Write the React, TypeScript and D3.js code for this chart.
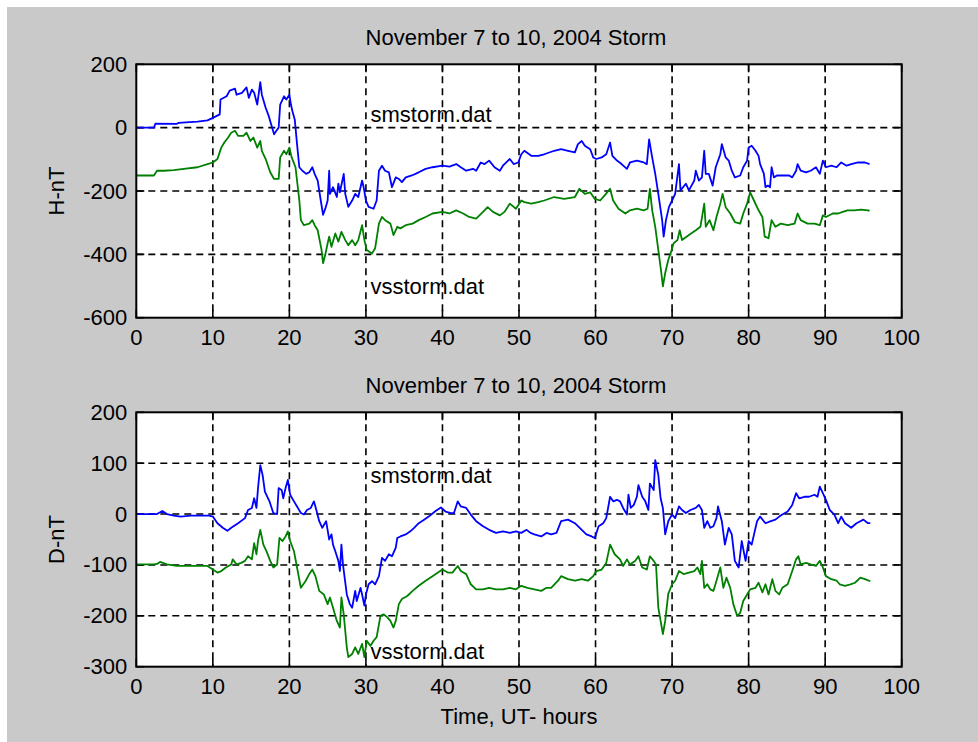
import React from "react";
import * as d3 from "d3";

// ---------- data (hours, nT) ----------
const xTicks = [0, 10, 20, 30, 40, 50, 60, 70, 80, 90, 100];
const hTicks = [-600, -400, -200, 0, 200];
const dTicks = [-300, -200, -100, 0, 100, 200];
const titleText = "November 7 to 10, 2004 Storm";
const seriesNames = ["smstorm.dat", "vsstorm.dat"];

const hSm: [number, number][] = [
  [0, 0], [2.3, 0], [2.5, 13], [5.3, 12], [5.5, 15], [8, 19], [9.3, 23], [10, 31], [10.9, 42], [11.0, 89],
  [11.8, 99], [12.2, 117], [12.9, 123], [13.1, 104], [13.8, 110], [14.4, 127], [14.7, 94], [15.1, 120], [15.4, 110], [15.8, 73],
  [16.2, 144], [16.4, 104], [16.9, 63], [17.3, 37], [18.0, -21], [18.3, -10], [18.6, 0], [18.8, 73], [19.3, 99], [19.6, 89],
  [20.0, 104], [20.2, 73], [20.4, 52], [20.7, 26], [21.0, -52], [21.3, -125], [21.7, -136], [22.2, -146], [22.6, -141], [23.0, -125],
  [23.3, -146], [23.7, -167], [24.1, -230], [24.4, -275], [24.7, -255], [25.0, -230], [25.2, -136], [25.3, -209], [25.7, -188], [26.2, -219],
  [26.4, -177], [26.6, -204], [27.1, -146], [27.3, -209], [27.7, -250], [28.2, -230], [28.6, -209], [29.0, -219], [29.5, -167], [29.7, -188],
  [30.0, -230], [30.35, -250], [31.0, -256], [31.4, -230], [31.7, -136], [32.1, -120], [32.5, -136], [33.0, -141], [33.4, -188], [33.9, -157],
  [34.3, -162], [34.7, -172], [35.2, -157], [36.0, -151], [36.9, -141], [37.8, -130], [38.7, -125], [40.0, -120], [40.9, -123], [41.8, -115],
  [42.4, -125], [43.1, -136], [44.0, -130], [44.4, -136], [45.0, -110], [45.5, -115], [46.1, -104], [46.8, -125], [47.5, -136], [47.9, -120],
  [48.8, -99], [49.3, -115], [49.9, -110], [50.3, -84], [50.7, -73], [51.6, -89], [52.5, -89], [53.3, -84], [54.6, -73], [55.5, -68],
  [56.4, -73], [57.3, -78], [57.7, -52], [58.2, -42], [58.6, -57], [59.3, -68], [59.7, -94], [60.1, -99], [60.8, -94], [61.4, -84],
  [61.9, -47], [62.2, -89], [62.8, -104], [63.4, -115], [64.1, -130], [64.5, -110], [65.4, -104], [66.3, -110], [66.7, -115], [67.0, -37],
  [67.4, -94], [67.8, -146], [68.2, -209], [68.7, -292], [68.9, -344], [69.2, -292], [69.6, -250], [70.0, -230], [70.4, -209], [70.9, -115],
  [71.1, -198], [71.8, -177], [72.2, -198], [72.9, -167], [73.1, -136], [73.5, -167], [73.9, -157], [74.2, -73], [74.4, -146], [74.8, -146],
  [75.3, -183], [75.7, -125], [76.3, -84], [76.5, -52], [77.0, -94], [77.4, -104], [77.8, -136], [78.2, -157], [78.9, -151], [79.3, -125],
  [79.8, -104], [80.0, -63], [80.4, -57], [80.9, -73], [81.3, -89], [81.5, -115], [82.0, -146], [82.2, -188], [82.5, -183], [82.8, -188],
  [83.0, -125], [83.3, -157], [83.7, -151], [84.4, -151], [85.3, -151], [85.7, -157], [86.2, -136], [86.4, -115], [86.8, -136], [87.5, -141],
  [88.1, -136], [88.8, -125], [89.3, -146], [89.7, -104], [90.1, -125], [90.8, -120], [91.5, -125], [92.1, -110], [92.8, -120], [93.4, -115],
  [94.3, -110], [95.2, -110], [95.8, -115],
];

const hVs: [number, number][] = [
  [0, -151], [2.3, -151], [2.7, -136], [3.6, -136], [4.9, -134], [6.2, -130], [8.0, -125], [9.3, -115], [10.0, -110], [10.6, -99],
  [11.1, -63], [11.5, -47], [12.0, -31], [12.4, -16], [12.9, -10], [13.3, -26], [14.0, -26], [14.4, -16], [14.9, -42], [15.3, -31],
  [15.8, -63], [16.2, -42], [16.4, -73], [16.9, -99], [17.5, -141], [18.0, -162], [18.6, -162], [18.8, -94], [19.3, -73], [19.6, -84],
  [20.0, -63], [20.3, -94], [20.8, -125], [21.3, -230], [21.5, -292], [21.9, -308], [22.6, -303], [23.0, -292], [23.3, -308], [23.7, -324],
  [24.2, -386], [24.4, -428], [24.7, -400], [25.0, -365], [25.2, -344], [25.5, -376], [26.0, -334], [26.4, -360], [26.8, -329], [27.3, -355],
  [27.7, -371], [28.2, -355], [28.6, -371], [29.0, -355], [29.5, -308], [29.8, -355], [30.1, -386], [30.8, -397], [31.2, -381], [31.7, -303],
  [32.1, -282], [32.5, -292], [33.2, -303], [33.6, -339], [34.1, -313], [34.5, -318], [35.2, -308], [36.1, -303], [36.9, -292], [37.8, -282],
  [38.7, -271], [40.0, -266], [40.9, -271], [41.8, -261], [42.7, -271], [43.5, -282], [44.4, -287], [45.3, -266], [45.9, -251], [46.6, -266],
  [47.5, -277], [48.1, -266], [48.8, -240], [49.6, -256], [50.3, -230], [50.7, -235], [51.6, -240], [52.5, -235], [53.3, -230], [54.6, -219],
  [55.9, -225], [57.3, -219], [57.9, -193], [58.6, -209], [59.3, -204], [59.9, -225], [60.6, -230], [61.2, -214], [61.9, -193], [62.3, -230],
  [63.0, -256], [63.9, -271], [64.5, -261], [65.4, -256], [66.3, -261], [66.8, -256], [67.1, -193], [67.4, -261], [67.8, -313], [68.2, -386],
  [68.6, -459], [68.8, -501], [69.1, -459], [69.5, -418], [69.8, -397], [70.2, -365], [70.7, -355], [71.0, -324], [71.3, -355], [72.2, -339],
  [73.1, -324], [73.7, -313], [74.2, -240], [74.4, -313], [74.9, -292], [75.4, -324], [75.8, -282], [76.3, -240], [76.6, -209], [77.0, -251],
  [77.6, -271], [78.2, -298], [78.9, -303], [79.3, -271], [79.8, -240], [80.2, -204], [80.7, -230], [81.3, -261], [81.8, -282], [82.1, -344],
  [82.6, -349], [83.0, -292], [83.5, -313], [84.2, -303], [85.1, -308], [86.0, -303], [86.4, -271], [86.8, -292], [87.7, -303], [88.6, -303],
  [89.3, -308], [89.7, -277], [90.1, -282], [91.0, -271], [91.7, -271], [92.3, -266], [92.9, -261], [93.8, -261], [94.7, -259], [95.6, -261],
  [95.8, -263],
];

const dSm: [number, number][] = [
  [0, 0], [2.7, 0], [3.4, 6], [4.0, 0], [4.9, -3], [5.8, -5], [7.1, -3], [9.5, -3], [10.0, -5], [10.6, -18],
  [11.3, -27], [11.9, -33], [12.4, -27], [13.3, -18], [14.2, -8], [14.6, 8], [15.1, 12], [15.4, 31], [15.7, 12], [15.9, 51],
  [16.2, 96], [16.5, 77], [16.8, 44], [17.4, 25], [17.9, 2], [18.4, 0], [18.6, 51], [19.0, 47], [19.2, 31], [19.5, 51],
  [19.8, 67], [20.1, 38], [20.6, 25], [21.0, 15], [21.5, 2], [21.9, -1], [22.3, 8], [22.8, 12], [23.2, 25], [23.4, 15],
  [23.9, -14], [24.3, -27], [24.8, -14], [25.2, -50], [25.5, -40], [25.7, -60], [26.0, -73], [26.4, -92], [26.6, -112], [26.8, -60],
  [27.0, -99], [27.5, -158], [27.9, -177], [28.2, -184], [28.6, -151], [28.8, -171], [29.3, -145], [29.5, -158], [29.8, -180], [30.0, -158],
  [30.35, -138], [30.8, -132], [31.2, -138], [31.7, -122], [32.1, -86], [32.5, -92], [33.0, -79], [33.4, -83], [33.9, -66], [34.1, -47],
  [34.5, -44], [35.2, -40], [35.8, -34], [36.3, -27], [36.9, -18], [37.6, -11], [38.2, -5], [39.1, 6], [39.8, 13], [40.4, 5],
  [41.1, 2], [41.5, 2], [42.0, 25], [42.4, 15], [43.1, 12], [43.7, -1], [44.4, -14], [45.3, -24], [46.1, -31], [47.0, -37],
  [47.9, -34], [48.8, -37], [49.6, -34], [50.3, -37], [51.0, -31], [51.5, -37], [52.0, -40], [52.9, -44], [53.6, -37], [54.2, -40],
  [54.9, -37], [55.5, -14], [56.4, -11], [57.3, -18], [58.2, -31], [58.8, -40], [59.5, -44], [59.9, -47], [60.4, -24], [61.0, -18],
  [61.4, -8], [61.9, 34], [62.3, 25], [62.8, 28], [63.2, 25], [63.6, 12], [64.1, -1], [64.3, 38], [64.6, 12], [65.0, 18],
  [65.4, 34], [65.6, 57], [66.1, 34], [66.5, 25], [66.9, 8], [67.1, 60], [67.6, 47], [67.8, 106], [68.2, 77], [68.5, 31],
  [68.8, 12], [69.1, -40], [69.5, -14], [70.0, -1], [70.4, -8], [70.9, 15], [71.3, 8], [71.8, 2], [72.4, 8], [73.1, 12],
  [73.5, 18], [73.9, 8], [74.2, -27], [74.6, -14], [75.0, -27], [75.4, -24], [75.8, -8], [76.0, 15], [76.5, -14], [76.9, -60],
  [77.4, -27], [77.8, -40], [78.2, -92], [78.7, -105], [79.1, -53], [79.6, -92], [80.0, -53], [80.4, -60], [81.1, -14], [81.5, -5],
  [82.2, -18], [82.9, -14], [83.5, -11], [84.0, -5], [84.4, -1], [85.1, 5], [85.7, 18], [86.2, 41], [86.6, 31], [87.3, 34],
  [87.9, 34], [88.6, 38], [89.0, 34], [89.3, 54], [89.7, 41], [90.1, 28], [90.6, 8], [91.2, -1], [91.7, -18], [92.1, -5],
  [92.6, -18], [93.4, -27], [94.1, -18], [95.0, -11], [95.6, -18], [95.9, -18],
];

const dVs: [number, number][] = [
  [0, -99], [2.3, -99], [2.7, -98], [3.1, -94], [4.0, -99], [5.3, -102], [7.1, -102], [9.3, -102], [10.0, -109], [10.6, -115],
  [11.1, -112], [11.7, -105], [12.4, -99], [12.6, -89], [13.1, -99], [13.7, -96], [14.2, -92], [14.6, -83], [15.1, -89], [15.4, -57],
  [15.7, -79], [15.9, -53], [16.2, -31], [16.6, -60], [17.0, -73], [17.5, -92], [17.9, -105], [18.4, -99], [18.7, -47], [19.1, -53],
  [19.5, -44], [19.8, -34], [20.1, -53], [20.6, -73], [21.0, -105], [21.5, -145], [22.1, -132], [22.6, -118], [23.0, -109], [23.4, -122],
  [23.9, -151], [24.5, -158], [25.0, -177], [25.3, -164], [25.7, -184], [26.2, -210], [26.6, -223], [26.8, -164], [27.1, -197], [27.5, -262],
  [27.7, -281], [28.2, -275], [28.6, -262], [29.0, -275], [29.5, -255], [29.8, -281], [30.1, -249], [30.6, -259], [31.0, -249], [31.4, -242],
  [31.9, -200], [32.3, -197], [32.8, -203], [33.2, -210], [33.6, -223], [33.9, -210], [34.3, -177], [34.7, -167], [35.4, -161], [36.1, -151],
  [36.9, -141], [37.8, -131], [38.7, -122], [39.6, -113], [40.0, -109], [40.7, -115], [41.3, -115], [42.0, -102], [42.4, -112], [43.1, -118],
  [43.7, -138], [44.4, -148], [45.3, -148], [46.1, -145], [47.0, -148], [47.9, -148], [48.8, -145], [49.6, -148], [50.3, -141], [51.1, -145],
  [52.0, -148], [52.9, -151], [53.6, -145], [54.2, -145], [55.1, -131], [55.5, -122], [56.4, -128], [57.3, -131], [58.2, -128], [59.0, -131],
  [59.7, -122], [60.1, -112], [60.8, -109], [61.4, -96], [61.9, -60], [62.5, -79], [63.2, -89], [63.6, -102], [64.1, -89], [64.5, -99],
  [65.2, -92], [65.6, -83], [66.1, -105], [66.7, -109], [67.1, -83], [67.6, -92], [67.9, -99], [68.2, -184], [68.5, -210], [68.8, -236],
  [69.1, -210], [69.5, -157], [70.0, -138], [70.4, -131], [70.9, -112], [71.5, -118], [72.2, -115], [72.9, -112], [73.3, -105], [73.7, -118],
  [73.9, -92], [74.2, -145], [74.6, -138], [75.0, -148], [75.4, -151], [75.8, -131], [76.3, -105], [76.7, -145], [77.1, -125], [77.6, -145],
  [78.0, -177], [78.5, -200], [78.9, -194], [79.3, -171], [79.8, -158], [80.2, -148], [80.9, -145], [81.3, -135], [81.8, -154], [82.2, -138],
  [82.6, -158], [83.1, -128], [83.5, -151], [84.0, -158], [84.4, -145], [85.1, -138], [85.7, -112], [86.2, -89], [86.5, -83], [86.8, -99],
  [87.5, -96], [88.1, -99], [88.8, -102], [89.3, -92], [89.7, -105], [90.1, -122], [90.8, -128], [91.5, -131], [91.9, -138], [92.6, -141],
  [93.3, -138], [93.9, -135], [94.6, -125], [95.2, -128], [95.9, -132],
];

// annotation anchor points (data coords)
const hLabelPos: [number, number][] = [[30.6, 40], [30.6, -500]];
const dLabelPos: [number, number][] = [[30.6, 75], [30.6, -270]];

// ---------- layout ----------
const W = 978;
const H = 742;
const FONT = "'Liberation Sans', Arial, sans-serif";
const FS = 22;
const LEFT = 136.3;
const RIGHT = 901.7;

type PanelProps = {
  top: number;
  bottom: number;
  domain: [number, number];
  ticks: number[];
  ylabel: string;
  sm: [number, number][];
  vs: [number, number][];
  labels: [number, number][];
  xlabel?: string;
};

function Panel({ top, bottom, domain, ticks, ylabel, sm, vs, labels, xlabel }: PanelProps) {
  const x = d3.scaleLinear().domain([0, 100]).range([LEFT, RIGHT]);
  const y = d3.scaleLinear().domain(domain).range([bottom, top]);
  const line = d3
    .line<[number, number]>()
    .x((d) => x(d[0]))
    .y((d) => y(d[1]));
  const tl = 8;
  const midY = (top + bottom) / 2;
  const midX = (LEFT + RIGHT) / 2;
  return (
    <g>
      <rect x={LEFT} y={top} width={RIGHT - LEFT} height={bottom - top} fill="#ffffff" />
      {/* grid */}
      {xTicks.slice(1, -1).map((t) => (
        <line key={"gx" + t} x1={x(t)} x2={x(t)} y1={top} y2={bottom} stroke="#000" strokeWidth={1.6} strokeDasharray="7,5" />
      ))}
      {ticks.slice(1, -1).map((t) => (
        <line key={"gy" + t} x1={LEFT} x2={RIGHT} y1={y(t)} y2={y(t)} stroke="#000" strokeWidth={1.6} strokeDasharray="7,5" />
      ))}
      {/* ticks */}
      {xTicks.map((t) => (
        <g key={"tx" + t}>
          <line x1={x(t)} x2={x(t)} y1={bottom} y2={bottom - tl} stroke="#000" strokeWidth={1.6} />
          <line x1={x(t)} x2={x(t)} y1={top} y2={top + tl} stroke="#000" strokeWidth={1.6} />
        </g>
      ))}
      {ticks.map((t) => (
        <g key={"ty" + t}>
          <line x1={LEFT} x2={LEFT + tl} y1={y(t)} y2={y(t)} stroke="#000" strokeWidth={1.6} />
          <line x1={RIGHT} x2={RIGHT - tl} y1={y(t)} y2={y(t)} stroke="#000" strokeWidth={1.6} />
        </g>
      ))}
      {/* data */}
      <path d={line(sm) || ""} fill="none" stroke="#0000ff" strokeWidth={1.8} strokeLinejoin="round" />
      <path d={line(vs) || ""} fill="none" stroke="#008000" strokeWidth={1.8} strokeLinejoin="round" />
      {/* box */}
      <rect x={LEFT} y={top} width={RIGHT - LEFT} height={bottom - top} fill="none" stroke="#000" strokeWidth={2} />
      {/* tick labels */}
      {xTicks.map((t) => (
        <text key={"lx" + t} x={x(t)} y={bottom + 20} textAnchor="middle" dominantBaseline="central" fontSize={FS} fontFamily={FONT}>
          {t}
        </text>
      ))}
      {ticks.map((t) => (
        <text key={"ly" + t} x={LEFT - 9} y={y(t)} textAnchor="end" dominantBaseline="central" fontSize={FS} fontFamily={FONT}>
          {t}
        </text>
      ))}
      {/* title */}
      <text x={midX - 3} y={top - 19} textAnchor="middle" fontSize={FS} fontFamily={FONT}>
        {titleText}
      </text>
      {/* y label */}
      <text
        transform={`translate(${57 + 7},${midY}) rotate(-90)`}
        textAnchor="middle"
        fontSize={FS}
        fontFamily={FONT}
      >
        {ylabel}
      </text>
      {xlabel && (
        <text x={midX} y={bottom + 57} textAnchor="middle" fontSize={FS} fontFamily={FONT}>
          {xlabel}
        </text>
      )}
      {/* annotations */}
      {labels.map((p, i) => (
        <text key={"an" + i} x={x(p[0])} y={y(p[1])} dominantBaseline="central" fontSize={FS} fontFamily={FONT}>
          {seriesNames[i]}
        </text>
      ))}
    </g>
  );
}

export default function App() {
  return (
    <div style={{ position: "absolute", left: 0, top: 0 }}>
      <svg width={W} height={H} style={{ display: "block" }}>
        <rect x={0} y={0} width={W} height={H} fill="#ffffff" />
        <rect x={7} y={7} width={W - 7} height={H - 7} fill="#c9c9c9" />
        <Panel top={64.3} bottom={317.7} domain={[-600, 200]} ticks={hTicks} ylabel="H-nT" sm={hSm} vs={hVs} labels={hLabelPos} />
        <Panel
          top={412.3}
          bottom={666.7}
          domain={[-300, 200]}
          ticks={dTicks}
          ylabel="D-nT"
          sm={dSm}
          vs={dVs}
          labels={dLabelPos}
          xlabel="Time, UT- hours"
        />
      </svg>
    </div>
  );
}
